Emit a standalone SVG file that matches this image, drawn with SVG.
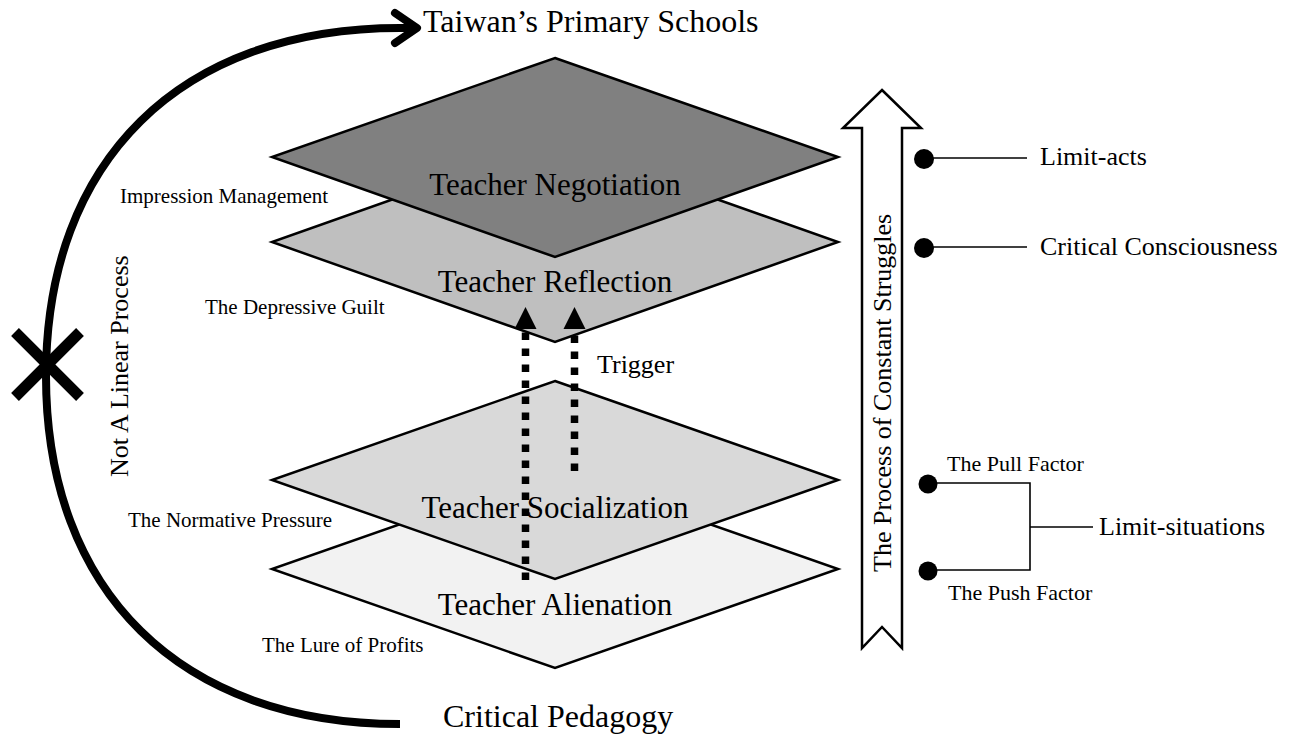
<svg xmlns="http://www.w3.org/2000/svg" width="1295" height="736" viewBox="0 0 1295 736">
  <style>
    text { font-family: "Liberation Serif", "Times New Roman", serif; fill: #000; }
    .layer { stroke: #000; stroke-width: 2.5; stroke-linejoin: miter; }
    .layer-label { font-size: 31px; text-anchor: middle; }
    .side { font-size: 21px; }
    .right { font-size: 26px; }
    .factor { font-size: 22px; }
    .title { font-size: 32px; }
    .thin { stroke: #000; stroke-width: 1.6; fill: none; }
    .dot { fill: #000; }
    .trigger { stroke: #000; stroke-width: 7.5; stroke-dasharray: 7.5 8.5; fill: none; }
  </style>

  <!-- layers, drawn bottom-up so upper layers overlap lower ones -->
  <g id="alienation">
    <polygon class="layer" fill="#f2f2f2" points="555,470 838,569 555,668 272,569"/>
  </g>
  <g id="socialization">
    <polygon class="layer" fill="#d9d9d9" points="555,381 838,480 555,579 272,480"/>
  </g>
  <g id="reflection">
    <polygon class="layer" fill="#bfbfbf" points="555,142 838,242 555,342 272,242"/>
    <text class="layer-label" x="555" y="292">Teacher Reflection</text>
  </g>
  <g id="negotiation">
    <polygon class="layer" fill="#808080" points="555,58 838,157 555,257 272,157"/>
    <text class="layer-label" x="555" y="195">Teacher Negotiation</text>
  </g>

  <!-- connectors -->
  <g id="connectors">
    <!-- trigger arrows -->
    <line class="trigger" x1="525.5" y1="580" x2="525.5" y2="329"/>
    <line class="trigger" x1="574.5" y1="471" x2="574.5" y2="329"/>
    <path d="M514.5,329 L525.5,307 L536.5,329 Z" fill="#000"/>
    <path d="M563.5,329 L574.5,307 L585.5,329 Z" fill="#000"/>

    <!-- outer sweep from Critical Pedagogy to Taiwan's Primary Schools -->
    <path d="M400,724 C180.5,724 46,591.8 46,376 C46,160.2 180.5,28 400,28 L416,28" fill="none" stroke="#000" stroke-width="8"/>
    <polyline points="395,13 417,28 395,43" fill="none" stroke="#000" stroke-width="8" stroke-linecap="round" stroke-linejoin="round"/>
    <!-- cross mark on the sweep -->
    <g stroke="#000" stroke-width="11">
      <line x1="15" y1="332" x2="80" y2="397"/>
      <line x1="80" y1="332" x2="15" y2="397"/>
    </g>

    <!-- hollow progress arrow -->
    <polygon points="882,90 921,128 902,128 902,648 882,627 862,648 862,128 843,128" fill="#fff" stroke="#000" stroke-width="2.5"/>

    <!-- bullet leaders -->
    <circle class="dot" cx="924" cy="159" r="10"/>
    <line class="thin" x1="930" y1="158" x2="1027" y2="158"/>
    <circle class="dot" cx="924" cy="248" r="10"/>
    <line class="thin" x1="930" y1="247" x2="1027" y2="247"/>
    <circle class="dot" cx="928" cy="484" r="9.5"/>
    <circle class="dot" cx="928" cy="571" r="9.5"/>
    <polyline class="thin" points="930,483 1030,483 1030,570 930,570"/>
    <line class="thin" x1="1030" y1="527" x2="1093" y2="527"/>
  </g>

  <g id="socialization-label">
    <text class="layer-label" x="555" y="518">Teacher Socialization</text>
  </g>
  <g id="alienation-label">
    <text class="layer-label" x="555" y="615">Teacher Alienation</text>
  </g>

  <g id="labels">
    <text class="title" x="423" y="32">Taiwan’s Primary Schools</text>
    <text class="title" x="443" y="727">Critical Pedagogy</text>
    <text class="side" x="120" y="203">Impression Management</text>
    <text class="side" x="205" y="314">The Depressive Guilt</text>
    <text class="side" x="128" y="527">The Normative Pressure</text>
    <text class="side" x="262" y="652">The Lure of Profits</text>
    <text class="right" x="597" y="373">Trigger</text>
    <text class="right" transform="translate(128,477) rotate(-90)">Not A Linear Process</text>
    <text class="right" transform="translate(891,572) rotate(-90)">The Process of Constant Struggles</text>
    <text class="right" x="1040" y="165">Limit-acts</text>
    <text class="right" x="1040" y="255">Critical Consciousness</text>
    <text class="right" x="1099" y="535">Limit-situations</text>
    <text class="factor" x="947" y="471">The Pull Factor</text>
    <text class="factor" x="948" y="600">The Push Factor</text>
  </g>
</svg>
